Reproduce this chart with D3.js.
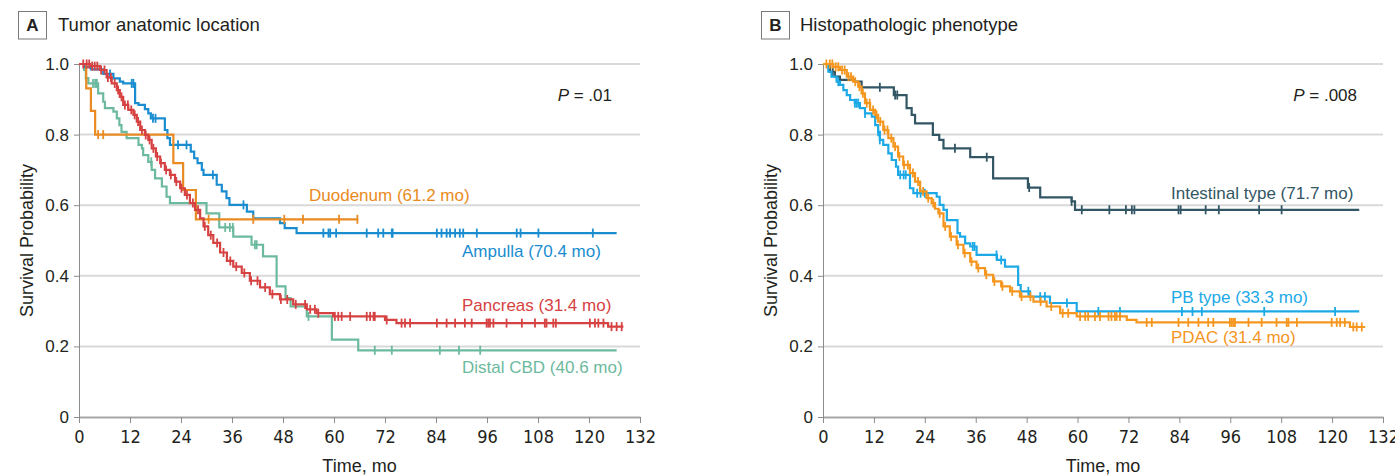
<!DOCTYPE html>
<html>
<head>
<meta charset="utf-8">
<script src="https://d3js.org/d3.v7.min.js"></script>
<style>
  body { margin: 0; background: #fff; }
  svg text { font-family: "Liberation Sans", Arial, sans-serif; fill: #231f20; }
  .xaxis text { font-family: "Liberation Sans Narrow", "DejaVu Sans Condensed", sans-serif; }
</style>
</head>
<body>
<script>
// ---- axis ticks ----
const xTicks = [0, 12, 24, 36, 48, 60, 72, 84, 96, 108, 120, 132];
const yTicks = [0, 0.2, 0.4, 0.6, 0.8, 1.0];

// ---- Panel A: tumor anatomic location ----
const duodenumT = [0, 1.7, 2.8, 3.8, 22.2, 24.5, 27.5];
const duodenumS = [1, 0.931, 0.867, 0.80, 0.719, 0.643, 0.560];
const duodenumEnd = 65.7;
const duodenumCens = [4.5, 5.7, 30.5, 41.0, 48.3, 52.7, 61.2, 65.5];

const ampullaT = [0, 1.4, 2.8, 5.7, 8.1, 9.6, 10.4, 13.2, 14.0, 15.5, 16.3, 16.9, 20.2, 20.8, 21.4,
  26.3, 27.1, 27.9, 28.9, 29.3, 32.4, 33.6, 34.7, 35.4, 39.5, 41.0, 47.3, 48.4, 51.2];
const ampullaS = [1, 0.991, 0.985, 0.972, 0.959, 0.950, 0.945, 0.889, 0.884, 0.872, 0.860, 0.846, 0.813, 0.790, 0.771,
  0.752, 0.733, 0.719, 0.700, 0.686, 0.658, 0.639, 0.620, 0.601, 0.582, 0.563, 0.549, 0.535, 0.521];
const ampullaEnd = 126.5;
const ampullaCens = [7.3, 12.4, 12.8, 17.4, 18.0, 23.3, 25.3, 31.5, 38.7, 57.5, 58.7, 59.1, 60.5, 67.7, 70.4,
  71.6, 73.6, 73.8, 84.2, 85.3, 86.5, 87.3, 88.5, 89.6, 90.4, 93.6, 103.0, 103.9, 108.1, 120.9];

const pancreasT = [0, 2.6, 4.9, 6.5, 7.7, 8.9, 9.6, 10.4, 11.6, 12.8, 13.6, 14.4, 15.5, 16.3, 17.1, 18.1,
  19.1, 20.2, 21.4, 22.6, 23.8, 24.9, 26.1, 27.3, 28.5, 29.3, 30.4, 31.6, 33.2, 34.8, 36.3, 38.3,
  40.2, 42.6, 44.9, 47.3, 50.4, 53.6, 55.9, 59.8, 72.0, 74.7, 124.5];
const pancreasS = [1, 0.994, 0.983, 0.962, 0.945, 0.926, 0.907, 0.884, 0.870, 0.856, 0.837, 0.813, 0.799, 0.785, 0.761, 0.738,
  0.719, 0.700, 0.686, 0.667, 0.648, 0.629, 0.606, 0.587, 0.563, 0.540, 0.515, 0.493, 0.466, 0.442, 0.426, 0.408,
  0.386, 0.367, 0.348, 0.333, 0.319, 0.305, 0.294, 0.285, 0.275, 0.266, 0.256];
const pancreasEnd = 128.1;
const pancreasCens = [1.0, 1.8, 2.4, 3.1, 3.7, 4.3, 5.2, 6.0, 6.8, 7.5, 8.4, 9.2, 10.0, 10.8, 11.5, 12.3, 13.1,
  13.9, 14.8, 15.7, 16.6, 17.5, 18.4, 19.3, 20.5, 21.6, 22.9, 24.1, 25.4, 26.8, 28.0, 29.6, 31.0, 32.5,
  34.0, 35.6, 37.0, 38.9, 40.5, 42.0, 43.8, 45.5, 47.5, 49.0, 51.0, 53.2, 54.4, 55.5, 56.3, 60.2, 61.0,
  61.8, 63.8, 67.7, 68.5, 69.3, 69.6, 72.4, 75.9, 76.7, 77.9, 84.2, 86.5, 88.5, 90.8, 92.4, 95.9, 96.3,
  96.7, 97.5, 100.6, 104.2, 107.3, 109.6, 110.0, 111.6, 112.2, 120.2, 121.4, 122.2, 123.4, 125.3, 126.5, 127.7];

const distalT = [0, 1.2, 1.6, 2.2, 4.5, 5.7, 6.1, 8.1, 8.9, 9.5, 10.0, 11.2, 14.0, 14.8, 15.1, 16.3, 17.1,
  17.9, 19.5, 20.6, 21.4, 30.0, 33.0, 36.3, 40.6, 43.3, 46.5, 48.6, 49.8, 53.6, 59.5, 65.7];
const distalS = [1, 0.983, 0.960, 0.945, 0.917, 0.893, 0.875, 0.865, 0.846, 0.827, 0.808, 0.790, 0.771, 0.761, 0.742, 0.723, 0.700,
  0.676, 0.653, 0.624, 0.606, 0.577, 0.537, 0.511, 0.488, 0.455, 0.370, 0.337, 0.313, 0.285, 0.219, 0.189];
const distalEnd = 126.5;
const distalCens = [3.3, 3.8, 4.2, 17.0, 34.4, 35.5, 36.2, 41.4, 41.8, 54.0, 69.6, 73.6, 84.9, 89.4, 94.4];

// ---- Panel B: histopathologic phenotype ----
const intestinalT = [0, 1.65, 2.8, 4.0, 7.5, 9.1, 16.7, 19.7, 20.9, 21.7, 25.9, 27.4, 28.4, 34.7, 40.1, 48.3, 51.2, 58.6, 59.4];
const intestinalS = [1, 0.978, 0.964, 0.955, 0.950, 0.934, 0.912, 0.875, 0.856, 0.832, 0.799, 0.785, 0.761, 0.736, 0.676, 0.650, 0.622, 0.611, 0.587];
const intestinalEnd = 126.4;
const intestinalCens = [2.3, 13.4, 17.0, 17.5, 31.1, 38.6, 48.6, 58.6, 61.0, 67.5, 71.4, 72.8, 73.4, 83.8, 84.3,
  90.2, 93.3, 102.8, 108.1];

const pbT = [0, 1.25, 2.0, 3.2, 4.0, 4.8, 5.6, 6.4, 7.5, 8.7, 9.9, 11.5, 12.3, 13.0, 13.4, 14.2, 15.4, 16.2,
  17.2, 17.7, 20.5, 21.3, 26.8, 27.5, 28.4, 29.2, 31.7, 32.3, 33.5, 34.7, 36.2, 41.0, 42.9, 46.0, 46.6,
  48.8, 53.5, 59.8];
const pbS = [1, 0.978, 0.964, 0.950, 0.941, 0.926, 0.912, 0.898, 0.889, 0.875, 0.860, 0.851, 0.827, 0.808, 0.785, 0.771, 0.747, 0.728,
  0.709, 0.686, 0.648, 0.634, 0.624, 0.601, 0.587, 0.558, 0.521, 0.511, 0.492, 0.483, 0.459, 0.445, 0.426, 0.374, 0.356,
  0.341, 0.323, 0.299];
const pbEnd = 126.4;
const pbCens = [3.6, 7.5, 7.9, 8.3, 9.9, 13.0, 13.4, 18.2, 19.0, 19.5, 22.2, 23.0, 24.0, 35.3, 35.7, 40.9, 42.0,
  48.4, 51.2, 52.3, 57.5, 64.9, 70.0, 84.6, 87.1, 89.3, 104.0, 120.7];

const pdacT = [0, 2.4, 4.0, 5.6, 7.1, 8.3, 9.1, 9.9, 11.1, 12.3, 13.0, 14.2, 15.4, 16.6, 17.7, 18.9, 20.5,
  21.7, 22.9, 24.4, 25.6, 26.4, 27.2, 28.4, 29.9, 31.5, 33.1, 34.7, 36.2, 38.2, 40.1, 42.0, 44.1, 46.4,
  49.6, 52.7, 55.9, 59.8, 71.6, 73.9, 124.2];
const pdacS = [1, 0.992, 0.983, 0.964, 0.950, 0.936, 0.917, 0.889, 0.870, 0.856, 0.837, 0.813, 0.790, 0.766, 0.738, 0.714, 0.691,
  0.667, 0.639, 0.620, 0.606, 0.590, 0.577, 0.540, 0.511, 0.488, 0.464, 0.440, 0.422, 0.403, 0.384, 0.370, 0.356, 0.341,
  0.327, 0.313, 0.294, 0.285, 0.275, 0.268, 0.255];
const pdacEnd = 127.8;
const pdacCens = [0.8, 1.6, 2.2, 3.0, 3.6, 4.5, 5.1, 6.0, 6.6, 7.6, 8.6, 9.4, 10.3, 11.0, 11.8, 12.6, 13.5,
  14.5, 15.2, 16.1, 17.0, 18.0, 19.1, 20.0, 21.2, 22.4, 23.6, 24.8, 26.0, 27.5, 28.8, 30.2, 31.8, 33.4,
  35.0, 36.6, 38.5, 40.4, 42.3, 44.6, 46.8, 48.9, 51.3, 53.8, 56.5, 57.8, 60.6, 61.8, 62.5, 64.1, 65.3,
  67.3, 68.0, 68.8, 69.2, 70.0, 76.3, 77.5, 83.8, 86.1, 88.5, 90.8, 92.0, 95.9, 96.3, 96.7, 97.1, 100.3,
  103.4, 106.9, 109.3, 109.7, 111.7, 119.9, 121.1, 121.9, 123.0, 125.0, 125.8, 127.0];

// ---- layout ----
const W = 1395, H = 476;
const yTop = 64, yBottom = 417;

const panels = [
  { letter: 'A', title: 'Tumor anatomic location', pval: '.01', left: 79, right: 640,
    boxX: 18.5, titleX: 58, yTitleX: 33, pX: 612,
    series: [
      { name: 'Distal CBD (40.6 mo)', t: distalT, s: distalS, end: distalEnd, c: distalCens, color: '#6cba9e', lx: 462, ly: 373 },
      { name: 'Ampulla (70.4 mo)', t: ampullaT, s: ampullaS, end: ampullaEnd, c: ampullaCens, color: '#1a8dd0', lx: 462, ly: 257 },
      { name: 'Duodenum (61.2 mo)', t: duodenumT, s: duodenumS, end: duodenumEnd, c: duodenumCens, color: '#e98b22', lx: 309, ly: 201 },
      { name: 'Pancreas (31.4 mo)', t: pancreasT, s: pancreasS, end: pancreasEnd, c: pancreasCens, color: '#d64242', lx: 462, ly: 311 }
    ] },
  { letter: 'B', title: 'Histopathologic phenotype', pval: '.008', left: 823, right: 1383,
    boxX: 761.5, titleX: 800, yTitleX: 777, pX: 1357,
    series: [
      { name: 'Intestinal type (71.7 mo)', t: intestinalT, s: intestinalS, end: intestinalEnd, c: intestinalCens, color: '#325664', lx: 1171, ly: 199 },
      { name: 'PB type (33.3 mo)', t: pbT, s: pbS, end: pbEnd, c: pbCens, color: '#1ca9e6', lx: 1171, ly: 303 },
      { name: 'PDAC (31.4 mo)', t: pdacT, s: pdacS, end: pdacEnd, c: pdacCens, color: '#f5961f', lx: 1171, ly: 343 }
    ] }
];

const svg = d3.select('body').append('svg')
  .attr('width', W).attr('height', H);

function survAt(s, t) {
  let v = 1;
  for (let i = 0; i < s.t.length; i++) if (s.t[i] <= t) v = s.s[i];
  return v;
}

panels.forEach(p => {
  const x = d3.scaleLinear().domain([0, 132]).range([p.left, p.right]);
  const y = d3.scaleLinear().domain([0, 1]).range([yBottom, yTop]);
  const g = svg.append('g');

  // panel letter box + title
  g.append('rect').attr('x', p.boxX).attr('y', 11.5).attr('width', 28).attr('height', 27.5)
    .attr('fill', 'none').attr('stroke', '#7a7a7a').attr('stroke-width', 1);
  g.append('text').attr('x', p.boxX + 14).attr('y', 31).attr('text-anchor', 'middle')
    .style('font-weight', 'bold').style('font-size', '17px').text(p.letter);
  g.append('text').attr('x', p.titleX).attr('y', 31).style('font-size', '18.5px').text(p.title);

  // gridlines
  g.selectAll('line.grid').data(yTicks.filter(d => d > 0)).join('line')
    .attr('class', 'grid')
    .attr('x1', p.left).attr('x2', p.right)
    .attr('y1', d => y(d)).attr('y2', d => y(d))
    .attr('stroke', '#d9d9d9').attr('stroke-width', 2);

  // x axis
  const xa = g.append('g').attr('class', 'xaxis').attr('transform', `translate(0,${yBottom})`)
    .call(d3.axisBottom(x).tickValues(xTicks).tickSize(6).tickSizeOuter(0).tickPadding(7));
  xa.select('.domain').attr('stroke', '#a6a6a6').attr('stroke-width', 2);
  xa.selectAll('.tick line').attr('stroke', '#8c8c8c');
  xa.selectAll('.tick text').style('font-size', '18px').attr('fill', '#231f20');

  // y axis
  const ya = g.append('g').attr('transform', `translate(${p.left},0)`)
    .call(d3.axisLeft(y).tickValues(yTicks).tickSize(5).tickSizeOuter(0).tickPadding(5)
      .tickFormat(d => d === 0 ? '0' : d.toFixed(1)));
  ya.select('.domain').attr('stroke', '#8c8c8c');
  ya.selectAll('.tick line').attr('stroke', '#8c8c8c');
  ya.selectAll('.tick text').style('font-size', '17px').attr('fill', '#231f20');

  // axis titles
  g.append('text').attr('transform', `translate(${p.yTitleX},${(yTop + yBottom) / 2}) rotate(-90)`)
    .attr('text-anchor', 'middle').style('font-size', '18px').text('Survival Probability');
  g.append('text').attr('x', (p.left + p.right) / 2).attr('y', 472)
    .attr('text-anchor', 'middle').style('font-size', '18px').text('Time, mo');

  // p value
  const pt = g.append('text').attr('x', p.pX).attr('y', 101).attr('text-anchor', 'end').style('font-size', '17px');
  pt.append('tspan').style('font-style', 'italic').text('P');
  pt.append('tspan').text(' = ' + p.pval);

  // curves
  const line = d3.line().x(d => x(d[0])).y(d => y(d[1])).curve(d3.curveStepAfter);
  p.series.forEach(s => {
    const pts = s.t.map((t, i) => [t, s.s[i]]);
    pts.push([s.end, s.s[s.s.length - 1]]);
    g.append('path').datum(pts).attr('d', line)
      .attr('fill', 'none').attr('stroke', s.color).attr('stroke-width', 2.2);
    g.selectAll(null).data(s.c).join('line')
      .attr('x1', d => x(d)).attr('x2', d => x(d))
      .attr('y1', d => y(survAt(s, d)) - 4.5).attr('y2', d => y(survAt(s, d)) + 4.5)
      .attr('stroke', s.color).attr('stroke-width', 1.8);
    g.append('text').attr('x', s.lx).attr('y', s.ly)
      .style('font-size', '17px').style('fill', s.color).text(s.name);
  });
});
</script>
</body>
</html>
